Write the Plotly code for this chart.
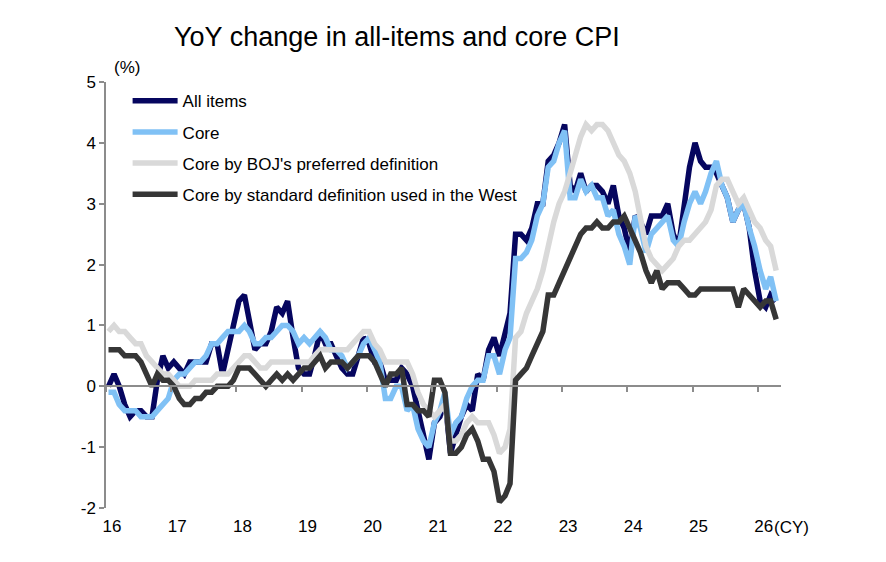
import pandas as pd
import plotly.graph_objects as go

# monthly, Jan 2016 - Apr 2026 (y/y %, Japan CPI)
months = pd.date_range("2016-01-01", periods=124, freq="MS") + pd.Timedelta(days=14)

all_items = [
    0.0, 0.2, 0.0, -0.3, -0.5, -0.4, -0.4, -0.5, -0.5, 0.1, 0.5, 0.3,
    0.4, 0.3, 0.2, 0.4, 0.4, 0.4, 0.4, 0.7, 0.7, 0.2, 0.6, 1.0,
    1.4, 1.5, 1.1, 0.6, 0.7, 0.7, 0.9, 1.3, 1.2, 1.4, 0.8, 0.3,
    0.2, 0.2, 0.5, 0.9, 0.7, 0.7, 0.5, 0.3, 0.2, 0.2, 0.5, 0.8,
    0.7, 0.4, 0.4, 0.1, 0.1, 0.1, 0.3, 0.2, 0.0, -0.4, -0.9, -1.2,
    -0.6, -0.5, -0.2, -1.1, -0.8, -0.5, -0.3, -0.4, 0.2, 0.1, 0.6, 0.8,
    0.5, 0.9, 1.2, 2.5, 2.5, 2.4, 2.6, 3.0, 3.0, 3.7, 3.8, 4.0,
    4.3, 3.3, 3.2, 3.5, 3.2, 3.3, 3.3, 3.2, 3.0, 3.3, 2.8, 2.6,
    2.2, 2.8, 2.7, 2.5, 2.8, 2.8, 2.8, 3.0, 2.5, 2.3, 2.9, 3.6,
    4.0, 3.7, 3.6, 3.6, 3.5, 3.3, 3.1, 2.7, 2.9, 3.0, 2.6, 1.9,
    1.4, 1.3, 1.5, 1.4,
]
core = [
    -0.1, -0.1, -0.3, -0.4, -0.4, -0.4, -0.5, -0.5, -0.5, -0.4, -0.3, -0.2,
    0.1, 0.2, 0.2, 0.3, 0.4, 0.4, 0.5, 0.7, 0.7, 0.8, 0.9, 0.9,
    0.9, 1.0, 0.9, 0.7, 0.7, 0.8, 0.8, 0.9, 1.0, 1.0, 0.9, 0.7,
    0.8, 0.7, 0.8, 0.9, 0.8, 0.6, 0.6, 0.5, 0.3, 0.4, 0.5, 0.7,
    0.8, 0.6, 0.4, -0.2, -0.2, 0.0, 0.0, -0.4, -0.3, -0.7, -0.9, -1.0,
    -0.6, -0.4, -0.1, -0.8, -0.6, -0.5, -0.2, 0.0, 0.1, 0.1, 0.5, 0.5,
    0.2, 0.6, 0.8, 2.1, 2.1, 2.2, 2.4, 2.8, 3.0, 3.6, 3.7, 4.0,
    4.2, 3.1, 3.1, 3.4, 3.2, 3.3, 3.1, 3.1, 2.8, 2.9, 2.5, 2.3,
    2.0, 2.8, 2.6, 2.2, 2.5, 2.6, 2.7, 2.8, 2.4, 2.3, 2.7, 3.0,
    3.2, 3.0, 3.2, 3.5, 3.7, 3.3, 3.1, 2.7, 2.9, 3.0, 2.6, 2.3,
    1.9, 1.6, 1.8, 1.4,
]
core_boj = [
    0.9, 1.0, 0.9, 0.9, 0.8, 0.7, 0.7, 0.5, 0.4, 0.3, 0.2, 0.2,
    0.1, 0.0, 0.0, 0.0, 0.1, 0.1, 0.1, 0.1, 0.2, 0.2, 0.2, 0.3,
    0.4, 0.5, 0.5, 0.4, 0.3, 0.3, 0.4, 0.4, 0.4, 0.4, 0.4, 0.4,
    0.4, 0.4, 0.5, 0.6, 0.6, 0.6, 0.6, 0.6, 0.6, 0.7, 0.8, 0.9,
    0.9, 0.7, 0.6, 0.4, 0.4, 0.4, 0.4, 0.4, 0.2, -0.1, -0.3, -0.4,
    -0.5, -0.4, -0.3, -0.9, -0.9, -0.8, -0.6, -0.5, -0.6, -0.6, -0.6, -0.8,
    -1.1, -1.0, -0.7, 0.8, 0.9, 1.2, 1.4, 1.6, 1.9, 2.3, 2.7, 3.0,
    3.2, 3.5, 3.8, 4.1, 4.3, 4.2, 4.3, 4.3, 4.2, 4.0, 3.8, 3.7,
    3.5, 3.2, 2.7, 2.3, 2.1, 2.0, 1.9, 2.0, 2.1, 2.3, 2.4, 2.4,
    2.5, 2.6, 2.7, 2.9, 3.3, 3.4, 3.4, 3.2, 3.0, 3.1, 2.9, 2.7,
    2.6, 2.4, 2.3, 1.9,
]
core_west = [
    0.6, 0.6, 0.6, 0.5, 0.5, 0.5, 0.4, 0.2, 0.0, 0.2, 0.1, 0.1,
    0.0, -0.2, -0.3, -0.3, -0.2, -0.2, -0.1, -0.1, 0.0, 0.0, 0.0, 0.1,
    0.3, 0.3, 0.3, 0.2, 0.1, 0.0, 0.1, 0.2, 0.1, 0.2, 0.1, 0.2,
    0.3, 0.3, 0.4, 0.5, 0.3, 0.4, 0.4, 0.4, 0.3, 0.4, 0.5, 0.5,
    0.5, 0.4, 0.2, 0.0, 0.2, 0.2, 0.3, -0.3, -0.3, -0.4, -0.4, -0.5,
    0.1, 0.1, -0.1, -1.1, -1.1, -1.0, -0.8, -0.7, -0.9, -1.2, -1.2, -1.4,
    -1.9, -1.8, -1.6, 0.1, 0.2, 0.3, 0.5, 0.7, 0.9, 1.5, 1.5, 1.7,
    1.9, 2.1, 2.3, 2.5, 2.6, 2.6, 2.7, 2.6, 2.6, 2.7, 2.7, 2.8,
    2.6, 2.4, 2.2, 1.9, 1.7, 1.9, 1.6, 1.7, 1.7, 1.7, 1.6, 1.5,
    1.5, 1.6, 1.6, 1.6, 1.6, 1.6, 1.6, 1.6, 1.3, 1.6, 1.5, 1.4,
    1.3, 1.4, 1.4, 1.1,
]

year_ticks = pd.date_range("2016-01-01", "2026-01-01", freq="YS")
year_labels = [d.strftime("%y") for d in year_ticks]
y_ticks = [-2, -1, 0, 1, 2, 3, 4, 5]
y_labels = [str(v) for v in y_ticks]  # plain hyphen minus like the original

series = [
    ("All items", all_items, "#06065f"),
    ("Core", core, "#80c1f5"),
    ("Core by BOJ's preferred definition", core_boj, "#d9d9d9"),
    ("Core by standard definition used in the West", core_west, "#363636"),
]

fig = go.Figure()
for name, vals, col in series:
    fig.add_trace(go.Scatter(x=months, y=vals, name=name, mode="lines",
                             line=dict(color=col, width=5.5), legendgroup=name))

# empty trace so the year tick marks on the zero line get drawn
fig.add_trace(go.Scatter(x=months[:1], y=[None], xaxis="x2", showlegend=False,
                         hoverinfo="skip", mode="lines"))

axis_grey = "#8c8c8c"
x_range = ["2016-01-01", "2026-05-12"]

fig.update_layout(
    width=878, height=554,
    margin=dict(l=98, r=105, t=74, b=54),
    paper_bgcolor="white", plot_bgcolor="white",
    font=dict(family="Liberation Sans, Arial, sans-serif", size=17, color="#000000"),
    title=dict(text="YoY change in all-items and core CPI", font=dict(size=27),
               xref="container", x=0.443, xanchor="center",
               yref="container", y=0.948, yanchor="middle"),
    showlegend=True,
    legend=dict(x=0.032, y=0.997, xanchor="left", yanchor="top",
                bgcolor="rgba(0,0,0,0)", font=dict(size=17),
                tracegroupgap=6, itemwidth=45),
    xaxis=dict(type="date", range=x_range, tickvals=year_ticks, ticktext=year_labels,
               showline=False, showgrid=False, zeroline=False, ticks="",
               tickfont=dict(size=17), ticklabelshift=6, ticklabelstandoff=6),
    xaxis2=dict(type="date", range=x_range, overlaying="x", matches="x",
                anchor="free", position=2 / 7, side="bottom",
                tickvals=year_ticks, showticklabels=False,
                showline=True, linecolor=axis_grey, linewidth=1.5,
                ticks="outside", ticklen=5, tickcolor=axis_grey, tickwidth=1.5,
                showgrid=False, zeroline=False),
    yaxis=dict(range=[-2, 5], tickvals=y_ticks, ticktext=y_labels,
               showline=True, linecolor=axis_grey, linewidth=1.5,
               ticks="outside", ticklen=5, tickcolor=axis_grey, tickwidth=1.5,
               showgrid=False, zeroline=True, zerolinecolor=axis_grey, zerolinewidth=1.5,
               tickfont=dict(size=17)),
)

fig.add_annotation(text="(%)", xref="paper", yref="paper", x=0.031, y=1.033,
                   showarrow=False, xanchor="center", yanchor="middle", font=dict(size=17))
fig.add_annotation(text="(CY)", xref="paper", yref="paper", x=0.987, y=-0.045,
                   showarrow=False, xanchor="left", yanchor="middle", font=dict(size=17))

fig.write_html("out.html")
